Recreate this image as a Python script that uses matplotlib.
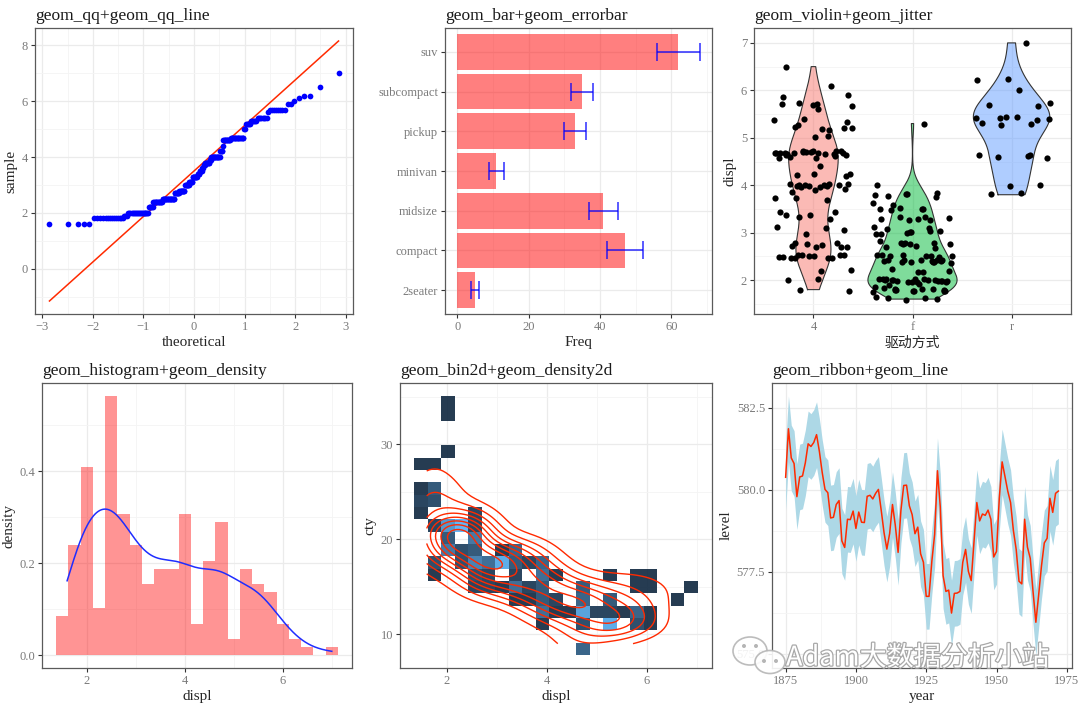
import statistics
import numpy as np
import matplotlib
matplotlib.use("Agg")
import matplotlib.pyplot as plt
import matplotlib.patheffects as pe
from matplotlib.colors import LinearSegmentedColormap, Normalize
from matplotlib.patches import Ellipse
from matplotlib.ticker import MultipleLocator, MaxNLocator, FormatStrFormatter

# ---- mpg: engine displacement, drive train and city mpg, one line per model ----
DISPL = [
    1.8, 1.8, 2.0, 2.0, 2.8, 2.8, 3.1,                      # audi a4
    1.8, 1.8, 2.0, 2.0, 2.8, 2.8, 3.1, 3.1,                 # audi a4 quattro
    2.8, 3.1, 4.2,                                          # audi a6 quattro
    5.3, 5.3, 5.3, 5.7, 6.0,                                # c1500 suburban
    5.7, 5.7, 6.2, 6.2, 7.0,                                # corvette
    5.3, 5.3, 5.7, 6.5,                                     # k1500 tahoe
    2.4, 2.4, 3.1, 3.5, 3.6,                                # malibu
    2.4, 3.0, 3.3, 3.3, 3.3, 3.3, 3.3, 3.8, 3.8, 3.8, 4.0,  # caravan
    3.7, 3.7, 3.9, 3.9, 4.7, 4.7, 4.7, 5.2, 5.2,            # dakota
    3.9, 4.7, 4.7, 4.7, 5.2, 5.7, 5.9,                      # durango
    4.7, 4.7, 4.7, 4.7, 4.7, 4.7, 5.2, 5.2, 5.7, 5.9,       # ram 1500
    4.6, 5.4, 5.4,                                          # expedition
    4.0, 4.0, 4.0, 4.0, 4.6, 5.0,                           # explorer
    4.2, 4.2, 4.6, 4.6, 4.6, 5.4, 5.4,                      # f150
    3.8, 3.8, 4.0, 4.0, 4.6, 4.6, 4.6, 4.6, 5.4,            # mustang
    1.6, 1.6, 1.6, 1.6, 1.6, 1.8, 1.8, 1.8, 2.0,            # civic
    2.4, 2.4, 2.4, 2.4, 2.5, 2.5, 3.3,                      # sonata
    2.0, 2.0, 2.0, 2.0, 2.7, 2.7, 2.7,                      # tiburon
    3.0, 3.7, 4.0, 4.7, 4.7, 4.7, 5.7, 6.1,                 # grand cherokee
    4.0, 4.2, 4.4, 4.6,                                     # range rover
    5.4, 5.4, 5.4,                                          # navigator
    4.0, 4.0, 4.6, 5.0,                                     # mountaineer
    2.4, 2.4, 2.5, 2.5, 3.5, 3.5,                           # altima
    3.0, 3.0, 3.5,                                          # maxima
    3.3, 3.3, 4.0, 5.6,                                     # pathfinder
    3.1, 3.8, 3.8, 3.8, 5.3,                                # grand prix
    2.5, 2.5, 2.5, 2.5, 2.5, 2.5,                           # forester
    2.2, 2.2, 2.5, 2.5, 2.5, 2.5, 2.5, 2.5,                 # impreza
    2.7, 2.7, 3.4, 3.4, 4.0, 4.7,                           # 4runner
    2.2, 2.2, 2.4, 2.4, 3.0, 3.0, 3.5,                      # camry
    2.2, 2.2, 2.4, 2.4, 3.0, 3.0, 3.3,                      # camry solara
    1.8, 1.8, 1.8, 1.8, 1.8,                                # corolla
    4.7, 5.7,                                               # land cruiser
    2.7, 2.7, 2.7, 3.4, 3.4, 4.0, 4.0,                      # tacoma
    2.0, 2.0, 2.0, 2.0, 2.8,                                # gti
    1.9, 2.0, 2.0, 2.0, 2.0, 2.5, 2.5, 2.8, 2.8,            # jetta
    1.9, 1.9, 2.0, 2.0, 2.5, 2.5,                           # new beetle
    1.8, 1.8, 2.0, 2.0, 2.8, 2.8, 3.6,                      # passat
]
CTY = [
    18, 21, 20, 21, 16, 18, 18,
    18, 16, 20, 19, 15, 17, 17, 15,
    15, 17, 16,
    14, 11, 14, 13, 12,
    16, 15, 16, 15, 15,
    14, 11, 11, 14,
    19, 22, 18, 18, 17,
    18, 17, 16, 16, 17, 15, 17, 16, 15, 15, 16,
    15, 14, 13, 14, 14, 14, 9, 11, 11,
    13, 13, 9, 13, 11, 13, 11,
    12, 9, 13, 13, 12, 9, 11, 11, 13, 11,
    11, 11, 12,
    14, 13, 13, 13, 13, 13,
    14, 14, 13, 13, 13, 11, 11,
    18, 18, 17, 16, 15, 15, 15, 15, 14,
    28, 24, 25, 23, 24, 26, 25, 24, 21,
    18, 18, 21, 21, 18, 18, 19,
    19, 19, 20, 20, 17, 16, 17,
    17, 15, 15, 14, 9, 14, 13, 11,
    11, 12, 12, 11,
    11, 11, 12,
    14, 13, 13, 13,
    21, 19, 23, 23, 19, 19,
    18, 19, 19,
    14, 15, 14, 12,
    18, 16, 17, 18, 16,
    18, 18, 20, 19, 20, 18,
    21, 19, 19, 19, 20, 20, 19, 20,
    15, 16, 15, 15, 16, 14,
    21, 21, 21, 21, 18, 18, 19,
    21, 21, 22, 22, 18, 18, 17,
    24, 24, 26, 28, 26,
    11, 13,
    15, 16, 17, 15, 15, 15, 16,
    21, 19, 21, 22, 17,
    33, 21, 19, 22, 21, 21, 21, 16, 17,
    35, 29, 21, 19, 20, 20,
    21, 18, 19, 21, 18, 17, 17,
]
DRV = list(
    "fffffff" "44444444" "444" "rrrrr" "rrrrr" "4444" "fffff"
    "fffffffffff" "444444444" "4444444" "4444444444" "rrr" "444444"
    "4444444" "rrrrrrrrr" "fffffffff" "fffffff" "fffffff" "44444444"
    "4444" "rrr" "4444" "ffffff" "fff" "4444" "fffff" "444444"
    "44444444" "444444" "fffffff" "fffffff" "fffff" "44" "4444444"
    "fffff" "fffffffff" "ffffff" "fffffff"
)
DRV_LEVELS = ["4", "f", "r"]
DRV_COLORS = ["#F8766D", "#00BA38", "#619CFF"]

# ---- vehicle class counts with error bars ----
CLASSES = ["2seater", "compact", "midsize", "minivan", "pickup", "subcompact", "suv"]
CLASS_FREQ = [5, 47, 41, 11, 33, 35, 62]
CLASS_ERR = [1, 5, 4, 2, 3, 3, 6]

# ---- Lake Huron level 1875-1972 ----
YEARS = list(range(1875, 1973))
LEVEL = [
    580.38, 581.86, 580.97, 580.80, 579.79, 580.39, 580.42, 580.82, 581.40, 581.32,
    581.44, 581.68, 581.17, 580.53, 580.01, 579.91, 579.14, 579.16, 579.55, 579.67,
    578.44, 578.24, 579.10, 579.09, 579.35, 578.82, 579.32, 579.01, 579.00, 579.80,
    579.83, 579.72, 579.89, 580.01, 579.37, 578.69, 578.19, 578.67, 579.55, 578.92,
    578.09, 579.37, 580.13, 580.14, 579.51, 579.24, 578.66, 578.86, 578.05, 577.79,
    576.75, 576.75, 577.82, 578.64, 580.58, 579.48, 577.38, 576.90, 576.94, 576.24,
    576.84, 576.85, 576.90, 577.79, 578.18, 577.51, 577.23, 578.42, 579.61, 579.05,
    579.26, 579.22, 579.38, 579.10, 577.95, 578.12, 579.75, 580.85, 580.41, 579.96,
    579.61, 578.76, 578.18, 577.21, 577.13, 579.10, 578.25, 577.91, 576.89, 575.96,
    576.80, 577.68, 578.38, 578.52, 579.74, 579.31, 579.89, 579.96,
]

plt.rcParams["font.family"] = ["Liberation Serif", "Noto Sans CJK SC"]

TICK_COLOR = "#7a7a7a"
GRID_MAJOR = "#EBEBEB"
GRID_MINOR = "#F4F4F4"


def bw_nrd0(x):
    x = np.asarray(x, float)
    iqr = np.subtract(*np.quantile(x, [0.75, 0.25]))
    return 0.9 * min(x.std(ddof=1), iqr / 1.34) * len(x) ** -0.2


def bw_nrd(x):
    iqr = np.subtract(*np.quantile(x, [0.75, 0.25]))
    return 4 * 1.06 * min(x.std(ddof=1), iqr / 1.34) * len(x) ** -0.2


def kde(x, grid, bw):
    x = np.asarray(x, float)
    u = (grid[:, None] - x[None, :]) / bw
    return np.exp(-0.5 * u ** 2).sum(axis=1) / (len(x) * bw * np.sqrt(2 * np.pi))


def expand(lo, hi, f=0.05):
    d = (hi - lo) * f
    return lo - d, hi + d


def style(ax, title, xlabel, ylabel):
    ax.set_title(title, loc="left", fontsize=12.5, pad=6, color="#1a1a1a")
    ax.set_xlabel(xlabel, fontsize=11, color="#262626", labelpad=2)
    ax.set_ylabel(ylabel, fontsize=11, color="#262626", labelpad=3)
    ax.grid(True, which="major", color=GRID_MAJOR, lw=0.9)
    ax.grid(True, which="minor", color=GRID_MINOR, lw=0.6)
    ax.set_axisbelow(True)
    ax.tick_params(which="major", length=3, width=0.8, color="#333333",
                   labelsize=9, labelcolor=TICK_COLOR, pad=2)
    ax.tick_params(which="minor", length=0)
    for s in ax.spines.values():
        s.set_color("#5a5a5a")
        s.set_linewidth(0.9)


W, H = 1080, 705


def panel(x0, y0, x1, y1):
    return fig.add_axes([x0 / W, 1 - y1 / H, (x1 - x0) / W, (y1 - y0) / H])


fig = plt.figure(figsize=(W / 100, H / 100), dpi=100)

displ = np.array(DISPL)
cty = np.array(CTY, float)
drv = np.array(DRV)
n = len(displ)

# ---------- 1. qq plot ----------
ax = panel(35, 28, 353, 314)
nd = statistics.NormalDist()
theo = np.array([nd.inv_cdf((i - 0.5) / n) for i in range(1, n + 1)])
samp = np.sort(displ)
ax.scatter(theo, samp, s=17, color="blue", zorder=3, linewidths=0)
q1, q3 = np.quantile(displ, [0.25, 0.75])
slope = (q3 - q1) / (nd.inv_cdf(0.75) - nd.inv_cdf(0.25))
icpt = q1 - slope * nd.inv_cdf(0.25)
lx = np.array([theo.min(), theo.max()])
ax.plot(lx, icpt + slope * lx, color="#FF2A00", lw=1.1, zorder=2)
ax.set_xlim(*expand(lx[0], lx[1]))
ax.set_ylim(*expand(icpt + slope * lx[0], icpt + slope * lx[1]))
ax.xaxis.set_major_locator(MultipleLocator(1))
ax.xaxis.set_minor_locator(MultipleLocator(0.5))
ax.yaxis.set_major_locator(MultipleLocator(2))
ax.yaxis.set_minor_locator(MultipleLocator(1))
style(ax, "geom_qq+geom_qq_line", "theoretical", "sample")

# ---------- 2. bar + errorbar ----------
ax = panel(445, 28, 712, 314)
ypos = np.arange(len(CLASSES))
ax.barh(ypos, CLASS_FREQ, height=0.9, color="#FF0000", alpha=0.5, lw=0, zorder=2)
ax.errorbar(CLASS_FREQ, ypos, xerr=CLASS_ERR, fmt="none", ecolor="blue", alpha=0.7,
            elinewidth=1.3, capsize=6.5, capthick=1.3, zorder=3)
ax.set_yticks(ypos)
ax.set_yticklabels(CLASSES)
ax.set_ylim(-0.6, len(CLASSES) - 0.4)
ax.set_xlim(*expand(0, max(f + e for f, e in zip(CLASS_FREQ, CLASS_ERR))))
ax.xaxis.set_major_locator(MultipleLocator(20))
ax.xaxis.set_minor_locator(MultipleLocator(10))
style(ax, "geom_bar+geom_errorbar", "Freq", "")
ax.grid(False, which="minor", axis="y")

# ---------- 3. violin + jitter ----------
ax = panel(754, 28, 1071, 314)
dens = []
for lev in DRV_LEVELS:
    g = displ[drv == lev]
    grid = np.linspace(g.min(), g.max(), 512)
    dens.append((grid, kde(g, grid, bw_nrd0(g))))
dmax = max(d.max() for _, d in dens)
for i, ((grid, d), col) in enumerate(zip(dens, DRV_COLORS)):
    w = 0.45 * d / dmax
    ax.fill_betweenx(grid, i - w, i + w, facecolor=col, alpha=0.5, edgecolor="none", zorder=2)
    ax.plot(np.r_[i - w, (i + w)[::-1], i - w[0]], np.r_[grid, grid[::-1], grid[0]],
            color="#333333", lw=0.8, zorder=2)
# deterministic jitter positions
idx = np.arange(n)
jx = 0.4 * (2 * ((idx * 0.6180339887) % 1) - 1)
jy = 0.04 * (2 * ((idx * 0.7548776662) % 1) - 1)
xcat = np.array([DRV_LEVELS.index(v) for v in drv])
ax.scatter(xcat + jx, displ + jy, s=20, color="black", zorder=3, linewidths=0)
ax.set_xticks(range(3))
ax.set_xticklabels(DRV_LEVELS)
ax.set_xlim(-0.6, 2.6)
ax.set_ylim(*expand(displ.min() - 0.04, displ.max() + 0.04))
ax.yaxis.set_major_locator(MultipleLocator(1))
ax.yaxis.set_minor_locator(MultipleLocator(0.5))
style(ax, "geom_violin+geom_jitter", "驱动方式", "displ")
ax.xaxis.label.set_family(["Noto Sans CJK SC"])
ax.xaxis.label.set_size(10)
ax.grid(False, which="minor", axis="x")

# ---------- 4. histogram + density ----------
ax = panel(42, 383, 352, 668)
edges = np.arange(1.375, 7.126, 0.25)
hvals, _, _ = ax.hist(displ, bins=edges, density=True, color="#FF0000", alpha=0.42,
                      lw=0, zorder=2)
gx = np.linspace(displ.min(), displ.max(), 512)
ax.plot(gx, kde(displ, gx, bw_nrd0(displ)), color="#1f2dff", lw=1.1, zorder=3)
ax.set_xlim(*expand(edges[0], edges[-1]))
ax.set_ylim(*expand(0, hvals.max()))
ax.xaxis.set_major_locator(MultipleLocator(2))
ax.xaxis.set_minor_locator(MultipleLocator(1))
ax.yaxis.set_major_locator(MultipleLocator(0.2))
ax.yaxis.set_minor_locator(MultipleLocator(0.1))
style(ax, "geom_histogram+geom_density", "displ", "density")

# ---------- 5. bin2d + density2d ----------
ax = panel(400, 383, 712, 668)
bins = 20
bwx = (displ.max() - displ.min()) / bins
bwy = (cty.max() - cty.min()) / bins
ox = np.floor(displ.min() / bwx) * bwx
oy = np.floor(cty.min() / bwy) * bwy
xe = np.arange(ox, displ.max() + 2 * bwx, bwx)
ye = np.arange(oy, cty.max() + 2 * bwy, bwy)
ix = np.searchsorted(xe + 1e-7 * bwx, displ, side="left") - 1
iy = np.searchsorted(ye + 1e-7 * bwy, cty, side="left") - 1
counts = np.zeros((len(ye) - 1, len(xe) - 1))
np.add.at(counts, (iy, ix), 1)
occ_y, occ_x = np.nonzero(counts)
occ_n = counts[occ_y, occ_x]
cmap = LinearSegmentedColormap.from_list("gg", ["#132B43", "#56B1F7"])
norm = Normalize(occ_n.min(), occ_n.max())
ax.bar(xe[occ_x], bwy, width=bwx, bottom=ye[occ_y], align="edge",
       color=cmap(norm(occ_n)), edgecolor="none", alpha=0.92, zorder=2)
# 2d kernel density (kde2d style, normal-reference bandwidth)
hx, hy = bw_nrd(displ) / 4, bw_nrd(cty) / 4
gxx = np.linspace(displ.min(), displ.max(), 100)
gyy = np.linspace(cty.min(), cty.max(), 100)
kx = np.exp(-0.5 * ((gxx[:, None] - displ[None, :]) / hx) ** 2)
ky = np.exp(-0.5 * ((gyy[:, None] - cty[None, :]) / hy) ** 2)
z = (ky @ kx.T) / (n * hx * hy * 2 * np.pi)
levels = MaxNLocator(nbins=10, steps=[1, 2, 2.5, 5, 10]).tick_values(z.min(), z.max())
levels = levels[(levels > z.min()) & (levels < z.max())]
ax.contour(gxx, gyy, z, levels=levels, colors="#FF2A00", linewidths=1.0, zorder=3)
ax.set_xlim(*expand(xe[occ_x.min()], xe[occ_x.max() + 1]))
ax.set_ylim(*expand(ye[occ_y.min()], ye[occ_y.max() + 1]))
ax.xaxis.set_major_locator(MultipleLocator(2))
ax.xaxis.set_minor_locator(MultipleLocator(1))
ax.yaxis.set_major_locator(MultipleLocator(10))
ax.yaxis.set_minor_locator(MultipleLocator(5))
style(ax, "geom_bin2d+geom_density2d", "displ", "cty")

# ---------- 6. ribbon + line ----------
ax = panel(772, 383, 1072, 668)
yr = np.array(YEARS)
lv = np.array(LEVEL)
ax.fill_between(yr, lv - 1, lv + 1, color="lightblue", lw=0, zorder=2)
ax.plot(yr, lv, color="#FF2A00", lw=1.1, zorder=3)
ax.set_xlim(*expand(yr.min(), yr.max()))
ax.set_ylim(*expand((lv - 1).min(), (lv + 1).max()))
ax.xaxis.set_major_locator(MultipleLocator(25))
ax.xaxis.set_minor_locator(MultipleLocator(12.5))
ax.yaxis.set_major_locator(MultipleLocator(2.5))
ax.yaxis.set_minor_locator(MultipleLocator(1.25))
ax.yaxis.set_major_formatter(FormatStrFormatter("%.1f"))
style(ax, "geom_ribbon+geom_line", "year", "level")

# ---------- watermark ----------
ov = fig.add_axes([0, 0, 1, 1], zorder=10)
ov.set_xlim(0, W)
ov.set_ylim(H, 0)
ov.axis("off")
ov.add_patch(Ellipse((750, 651), 34, 28, facecolor="white", edgecolor="#b5b5b5", lw=1.2, alpha=0.9))
ov.add_patch(Ellipse((770, 662), 30, 23, facecolor="white", edgecolor="#b5b5b5", lw=1.2, alpha=0.9))
for ex, ey in [(744, 646), (756, 646), (764, 661), (776, 661)]:
    ov.add_patch(Ellipse((ex, ey), 4, 4, facecolor="#b5b5b5", edgecolor="none"))
ov.text(786, 658, "Adam大数据分析小站", fontsize=19.5, color="white", va="center", ha="left",
        family=["Noto Sans CJK SC"],
        path_effects=[pe.withStroke(linewidth=1.8, foreground="#a8a8a8")])

fig.savefig("out.png", dpi=100)
